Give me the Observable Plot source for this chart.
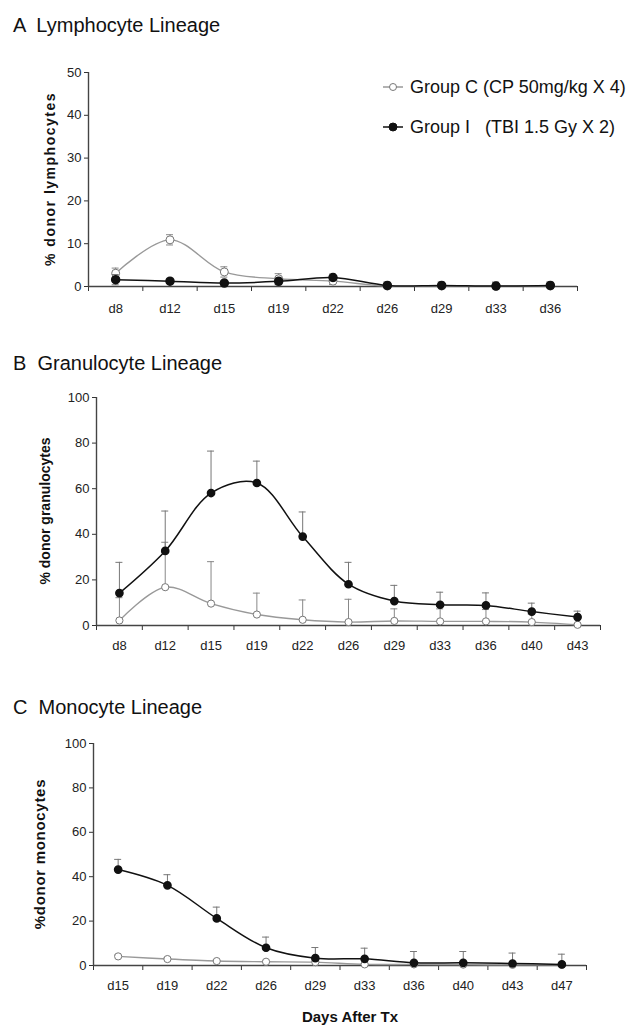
<!DOCTYPE html>
<html><head><meta charset="utf-8">
<script src="https://cdn.jsdelivr.net/npm/d3@7"></script>
<script src="https://cdn.jsdelivr.net/npm/@observablehq/plot@0.6"></script>
<style>
body{margin:0;background:#fff;}
#page{position:relative;width:644px;height:1035px;overflow:hidden;font-family:"Liberation Sans",Arial,sans-serif;color:#111;}
.abs{position:absolute;}
.title{font-size:20px;line-height:20px;left:13px;white-space:pre;}
.ylab{width:300px;text-align:center;font-weight:bold;font-size:14px;line-height:16px;transform:rotate(-90deg);transform-origin:50% 50%;white-space:pre;}
.leg{font-size:18px;line-height:22px;white-space:pre;display:flex;align-items:center;}
.xlab{font-family:"Liberation Sans Narrow","Liberation Sans",Arial,sans-serif;font-weight:bold;font-size:15px;text-align:center;}
svg{position:absolute;left:0;}
</style></head><body><div id="page"></div>
<script>
// ---------- data ----------
const groupCLabel = "Group C (CP 50mg/kg X 4)";
const groupILabel = "Group I   (TBI 1.5 Gy X 2)";

// A: Lymphocyte lineage
const lymphDays = ["d8","d12","d15","d19","d22","d26","d29","d33","d36"];
const lymphC    = [3.1, 10.9, 3.4, 1.8, 1.25, 0.1, 0.1, 0.05, 0.1];
const lymphCErr = [1.2, 1.2, 1.2, 1.2, 0.8, 0.5, 0.5, 1.0, 0.5];
const lymphI    = [1.6, 1.25, 0.8, 1.2, 2.1, 0.25, 0.25, 0.1, 0.25];
const lymphIErr = [1.2, 0.5, 0.5, 0.8, 0.8, 0.8, 0.8, 0.8, 0.8];
const lymphTicks = [0, 10, 20, 30, 40, 50];

// B: Granulocyte lineage
const granDays = ["d8","d12","d15","d19","d22","d26","d29","d33","d36","d40","d43"];
const granC    = [2.2, 16.8, 9.6, 4.8, 2.5, 1.5, 2.0, 1.8, 1.8, 1.5, 0.3];
const granCErr = [10, 19.7, 18.4, 9.4, 8.7, 10, 5.3, 5.5, 5.2, 3.5, 0.3];
const granI    = [14.2, 32.7, 58.1, 62.5, 39.0, 18.1, 10.7, 9.1, 8.8, 6.1, 3.7];
const granIErr = [13.5, 17.5, 18.4, 9.6, 10.8, 9.6, 6.9, 5.5, 5.5, 3.7, 2.6];
const granTicks = [0, 20, 40, 60, 80, 100];

// C: Monocyte lineage
const monoDays = ["d15","d19","d22","d26","d29","d33","d36","d40","d43","d47"];
const monoC    = [4.1, 2.9, 2.0, 1.7, 1.5, 0.5, 0.5, 0.4, 0.3, 0.3];
const monoCErr = [0.6, 0.5, 0.5, 0.4, 0.4, 0.3, 0.3, 0.2, 0.2, 0.2];
const monoI    = [43.2, 36.1, 21.2, 8.0, 3.3, 3.0, 1.2, 1.2, 0.9, 0.5];
const monoIErr = [4.6, 4.8, 5.1, 4.8, 4.8, 4.8, 5.1, 5.1, 4.7, 4.6];
const monoTicks = [0, 20, 40, 60, 80, 100];

// ---------- layout ----------
const page = document.getElementById("page");
function addDiv(cls, text, css) {
  const d = document.createElement("div");
  d.className = "abs " + cls;
  d.textContent = text;
  Object.assign(d.style, css);
  page.appendChild(d);
  return d;
}
function addYLabel(text, cx, cy, extra) {
  const d = addDiv("ylab", text, {left: (cx - 150) + "px", top: (cy - 8) + "px"});
  Object.assign(d.style, extra || {});
}

const tickFont = '"Liberation Sans Narrow","Liberation Sans",Arial,sans-serif';

function panel(o) {
  const n = o.days.length;
  const plotW = 644 - o.marginLeft - o.marginRight;
  const cap = 3.5 / (plotW / n);
  const rowsC = o.days.map((d, k) => ({x: k + 0.5, y: o.c[k], e: o.cErr[k]}));
  const rowsI = o.days.map((d, k) => ({x: k + 0.5, y: o.i[k], e: o.iErr[k]}));
  const lo = d => o.twoSided ? Math.max(0, d.y - d.e) : d.y;
  const errMarks = (rows, color) => {
    const m = [
      Plot.ruleX(rows, {x: "x", y1: lo, y2: d => d.y + d.e, stroke: color, strokeWidth: 1}),
      Plot.ruleY(rows, {y: d => d.y + d.e, x1: d => d.x - cap, x2: d => d.x + cap, stroke: color, strokeWidth: 1})
    ];
    if (o.twoSided) m.push(Plot.ruleY(rows, {y: lo, x1: d => d.x - cap, x2: d => d.x + cap, stroke: color, strokeWidth: 1}));
    return m;
  };
  const svg = Plot.plot({
    width: 644,
    height: o.height,
    marginLeft: o.marginLeft,
    marginRight: o.marginRight,
    marginTop: o.marginTop,
    marginBottom: o.marginBottom,
    x: {domain: [0, n], axis: null},
    y: {domain: [0, o.yMax], axis: null},
    style: {fontFamily: tickFont, fontSize: "13px", color: "#333", background: "transparent", overflow: "visible"},
    marks: [
      Plot.axisY({ticks: o.yTicks, tickSize: 4, tickPadding: 3, tickFormat: d => String(d), label: null, fontSize: 13, fill: "#222"}),
      Plot.axisX({ticks: d3.range(n + 1), tickSize: 5, tickFormat: () => "", label: null}),
      Plot.axisX({ticks: d3.range(n).map(k => k + 0.5), tickSize: 0, tickPadding: o.labelPad, tickFormat: v => o.days[Math.floor(v)], label: null, fontSize: 13, fill: "#222"}),
      Plot.ruleX([0], {stroke: "#444", strokeWidth: 1.4}),
      Plot.ruleY([0], {stroke: "#444", strokeWidth: 1.4}),
      ...errMarks(rowsC, "#888"),
      Plot.line(rowsC, {x: "x", y: "y", stroke: "#999", strokeWidth: 1.4, curve: "catmull-rom"}),
      Plot.dot(rowsC, {x: "x", y: "y", r: o.r, fill: "white", stroke: "#777", strokeWidth: 1}),
      ...errMarks(rowsI, "#777"),
      Plot.line(rowsI, {x: "x", y: "y", stroke: "#111", strokeWidth: 1.5, curve: "catmull-rom"}),
      Plot.dot(rowsI, {x: "x", y: "y", r: o.r, fill: "#111", stroke: "#111"})
    ]
  });
  svg.style.top = o.top + "px";
  page.appendChild(svg);
}

// Panel A
addDiv("title", "A  Lymphocyte Lineage", {top: "15px"});
panel({days: lymphDays, c: lymphC, cErr: lymphCErr, i: lymphI, iErr: lymphIErr, yMax: 50, yTicks: lymphTicks,
  twoSided: true, top: 40, marginTop: 32, marginBottom: 35, height: 281, marginLeft: 88, marginRight: 67, labelPad: 17, r: 4});
addYLabel("% donor lymphocytes", 50, 179, {letterSpacing: "1.5px"});

// Legend
function legendRow(label, filled, cy) {
  const d = addDiv("leg", "", {left: "381px", top: (cy - 11) + "px"});
  const ns = "http://www.w3.org/2000/svg";
  const s = document.createElementNS(ns, "svg");
  s.setAttribute("width", "24"); s.setAttribute("height", "14");
  s.style.position = "static"; s.style.marginRight = "5px";
  const l = document.createElementNS(ns, "line");
  l.setAttribute("x1", "2"); l.setAttribute("x2", "22"); l.setAttribute("y1", "7"); l.setAttribute("y2", "7");
  l.setAttribute("stroke", filled ? "#111" : "#999"); l.setAttribute("stroke-width", "1.5");
  const c = document.createElementNS(ns, "circle");
  c.setAttribute("cx", "12"); c.setAttribute("cy", "7"); c.setAttribute("r", filled ? "4" : "3.5");
  c.setAttribute("fill", filled ? "#111" : "white"); c.setAttribute("stroke", filled ? "#111" : "#777");
  s.appendChild(l); s.appendChild(c);
  d.appendChild(s);
  const t = document.createElement("span"); t.textContent = label; d.appendChild(t);
}
legendRow(groupCLabel, false, 87);
legendRow(groupILabel, true, 127);

// Panel B
addDiv("title", "B  Granulocyte Lineage", {top: "353px"});
panel({days: granDays, c: granC, cErr: granCErr, i: granI, iErr: granIErr, yMax: 100, yTicks: granTicks,
  twoSided: false, top: 380, marginTop: 17, marginBottom: 35, height: 280, marginLeft: 96, marginRight: 44, labelPad: 15, r: 3.6});
addYLabel("% donor granulocytes", 45, 511, {});

// Panel C
addDiv("title", "C  Monocyte Lineage", {top: "697px"});
panel({days: monoDays, c: monoC, cErr: monoCErr, i: monoI, iErr: monoIErr, yMax: 100, yTicks: monoTicks,
  twoSided: false, top: 725, marginTop: 18, marginBottom: 32, height: 272, marginLeft: 93, marginRight: 58, labelPad: 15, r: 3.6});
addYLabel("%donor monocytes", 40, 854, {letterSpacing: "0.7px", fontSize: "15px"});

addDiv("xlab", "Days After Tx", {left: "250px", width: "200px", top: "1008px"});
</script>
</body></html>
